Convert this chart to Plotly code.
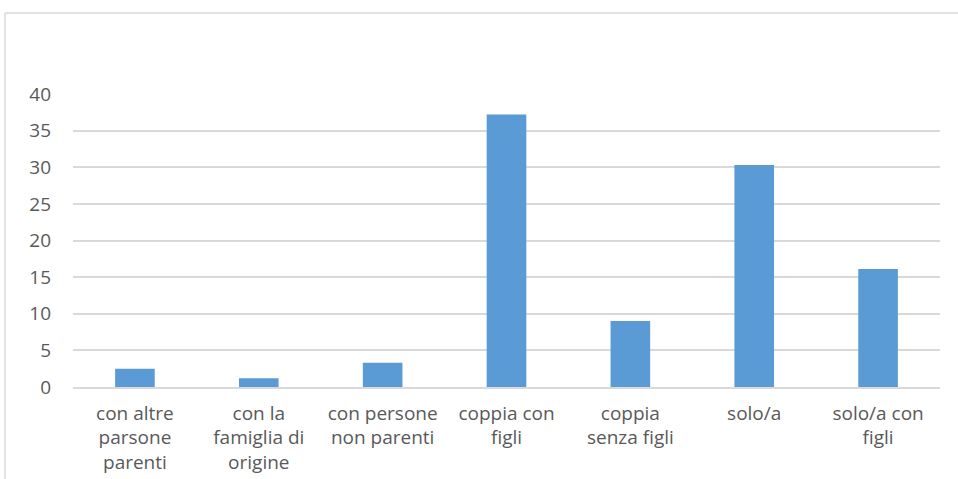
import plotly.graph_objects as go

categories = [
    "con altre<br>parsone<br>parenti",
    "con la<br>famiglia di<br>origine",
    "con persone<br>non parenti",
    "coppia con<br>figli",
    "coppia<br>senza figli",
    "solo/a",
    "solo/a con<br>figli",
]
values = [2.5, 1.2, 3.3, 37.2, 9.0, 30.3, 16.1]
y_ticks = [0, 5, 10, 15, 20, 25, 30, 35, 40]

W, H = 958, 479
L, R, T, B = 73, 18, 94, 92
pw, ph = W - L - R, H - T - B

def px_x(x):
    return (x - L) / pw

def px_y(y):
    return (H - B - y) / ph

fig = go.Figure(go.Bar(
    x=categories, y=values,
    marker=dict(color="#5b9bd5", line=dict(width=0)),
))

fig.update_layout(
    width=W, height=H,
    margin=dict(l=L, r=R, t=T, b=B),
    plot_bgcolor="white", paper_bgcolor="white",
    bargap=0.68,
    showlegend=False,
    font=dict(family="Open Sans", size=19, color="#595959"),
    xaxis=dict(showgrid=False, showline=True, linecolor="#d9d9d9", linewidth=1.5,
               ticks="", tickfont=dict(size=19, color="#595959"), tickangle=0,
               ticklabelstandoff=8, automargin=False),
    yaxis=dict(range=[0, 40], tickvals=y_ticks, showgrid=True, gridcolor="#d9d9d9",
               gridwidth=1.5, zeroline=False, showline=False, ticks="",
               ticklabelstandoff=21, tickfont=dict(size=19, color="#595959"),
               automargin=False),
    shapes=[
        dict(type="line", xref="paper", yref="paper",
             x0=px_x(5), x1=px_x(960), y0=px_y(13), y1=px_y(13),
             line=dict(color="#d9d9d9", width=1.5)),
        dict(type="line", xref="paper", yref="paper",
             x0=px_x(5), x1=px_x(5), y0=px_y(13), y1=px_y(481),
             line=dict(color="#d9d9d9", width=1.5)),
    ],
)

fig.write_html("out.html", config={"displayModeBar": False},
               post_script="document.body.style.margin='0';document.body.style.overflow='hidden';")
